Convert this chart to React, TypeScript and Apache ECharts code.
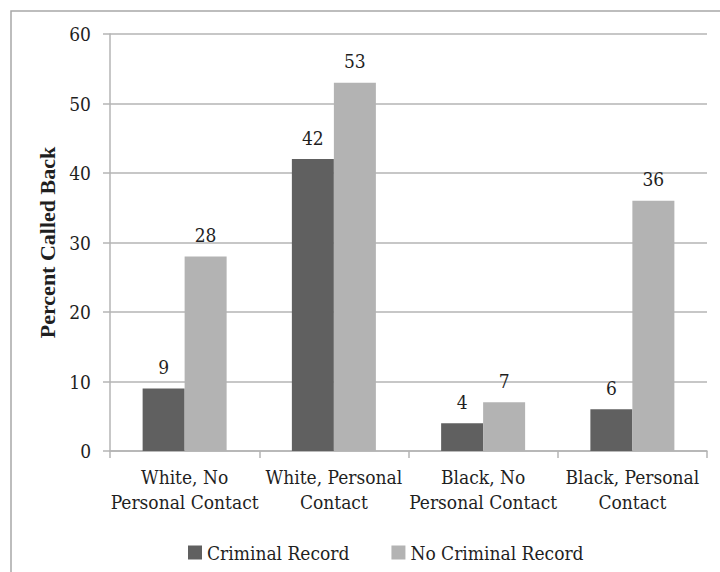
import React, { useEffect, useRef } from "react";
import * as echarts from "echarts";

// Callback rates by applicant group
const categories = [
  "White, No\nPersonal Contact",
  "White, Personal\nContact",
  "Black, No\nPersonal Contact",
  "Black, Personal\nContact",
];
const criminalRecord = [9, 42, 4, 6];
const noCriminalRecord = [28, 53, 7, 36];
const seriesNames = ["Criminal Record", "No Criminal Record"];

const SERIF = "DejaVu Serif Condensed";
const TITLE_FONT = "Liberation Serif";
const SIZE = 19;
const TEXT = "#1f1f1f";
const LINE = "#b4b4b4";

export default function App() {
  const ref = useRef<HTMLDivElement>(null);

  useEffect(() => {
    if (!ref.current) return;
    const chart = echarts.init(ref.current, undefined, { renderer: "svg" });
    const labelStyle = {
      show: true,
      position: "top" as const,
      distance: 12,
      fontFamily: SERIF,
      fontSize: SIZE,
      color: TEXT,
    };
    chart.setOption({
      animation: false,
      backgroundColor: "#ffffff",
      textStyle: { fontFamily: SERIF },
      graphic: [
        {
          type: "rect",
          shape: { x: 11, y: 11, width: 760, height: 620 },
          style: { fill: "none", stroke: "#a8a8a8", lineWidth: 1.5 },
          silent: true,
        },
      ],
      grid: {
        left: 110,
        right: 13,
        top: 34,
        bottom: 121,
        outerBoundsMode: "none",
      },
      legend: {
        left: 183,
        top: 538,
        icon: "rect",
        itemWidth: 14,
        itemHeight: 14,
        itemGap: 42,
        textStyle: { fontFamily: SERIF, fontSize: SIZE, color: TEXT },
        data: seriesNames,
      },
      xAxis: {
        type: "category",
        data: categories,
        axisLine: { lineStyle: { color: LINE, width: 1.5 } },
        axisTick: { show: true, length: 7, lineStyle: { color: LINE, width: 1.5 } },
        axisLabel: {
          fontFamily: SERIF,
          fontSize: SIZE,
          color: TEXT,
          lineHeight: 25,
          margin: 13,
          interval: 0,
        },
      },
      yAxis: {
        type: "value",
        min: 0,
        max: 60,
        interval: 10,
        name: "Percent Called Back",
        nameLocation: "middle",
        nameRotate: 90,
        nameGap: 52,
        nameTextStyle: {
          fontFamily: TITLE_FONT,
          fontSize: 22,
          fontWeight: "bold",
          color: TEXT,
        },
        axisLine: { show: true, lineStyle: { color: LINE, width: 1.5 } },
        axisTick: { show: true, length: 7, lineStyle: { color: LINE, width: 1.5 } },
        axisLabel: {
          fontFamily: SERIF,
          fontSize: SIZE,
          color: TEXT,
          margin: 19,
        },
        splitLine: { lineStyle: { color: LINE, width: 1.5 } },
      },
      series: [
        {
          name: seriesNames[0],
          type: "bar",
          data: criminalRecord,
          barWidth: 42,
          barGap: "0%",
          itemStyle: { color: "#606060" },
          label: labelStyle,
        },
        {
          name: seriesNames[1],
          type: "bar",
          data: noCriminalRecord,
          barWidth: 42,
          barGap: "0%",
          itemStyle: { color: "#b3b3b3" },
          label: labelStyle,
        },
      ],
    });
    return () => chart.dispose();
  }, []);

  return (
    <div
      ref={ref}
      style={{ position: "fixed", left: 0, top: 0, width: 720, height: 572 }}
    />
  );
}
